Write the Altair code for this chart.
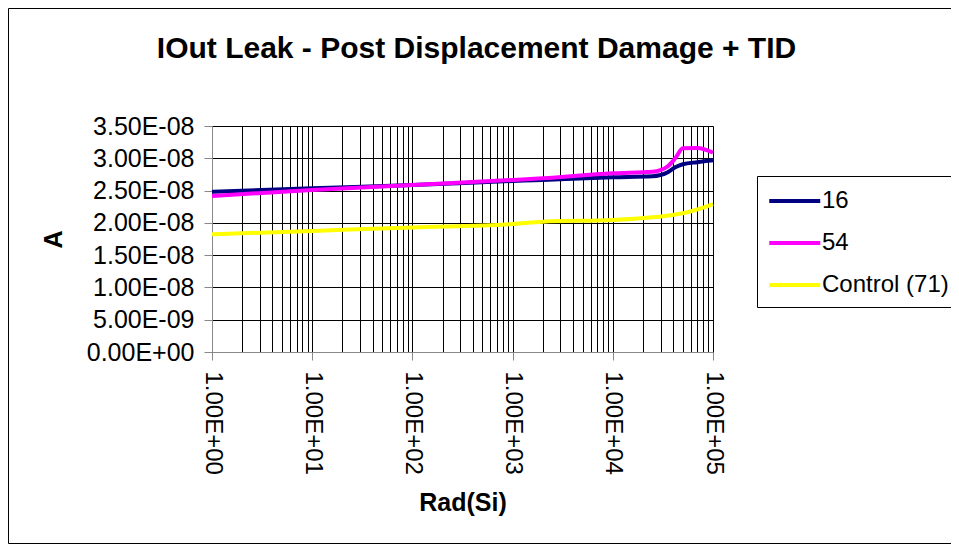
import altair as alt
import pandas as pd

# ---- data ----
doses = [1, 10, 100, 1000, 2000, 10000, 25000, 35000, 42000, 50000, 70000, 100000]
s16 = [2.48e-8, 2.535e-8, 2.586e-8, 2.648e-8, 2.665e-8, 2.705e-8, 2.72e-8, 2.78e-8, 2.86e-8, 2.907e-8, 2.94e-8, 2.968e-8]
s54 = [2.416e-8, 2.509e-8, 2.586e-8, 2.664e-8, 2.69e-8, 2.767e-8, 2.79e-8, 2.87e-8, 3.0e-8, 3.154e-8, 3.16e-8, 3.087e-8]
s71 = [1.823e-8, 1.874e-8, 1.93e-8, 1.982e-8, 2.018e-8, 2.044e-8, 2.086e-8, 2.11e-8, 2.13e-8, 2.148e-8, 2.21e-8, 2.292e-8]
series_names = ["16", "54", "Control (71)"]
series_colors = ["#000080", "#FF00FF", "#FFFF00"]

y_ticks = [0, 5e-9, 1e-8, 1.5e-8, 2e-8, 2.5e-8, 3e-8, 3.5e-8]
y_labels = ["0.00E+00", "5.00E-09", "1.00E-08", "1.50E-08", "2.00E-08", "2.50E-08", "3.00E-08", "3.50E-08"]
x_decades = [1, 10, 100, 1000, 10000, 100000]
x_labels = ["1.00E+00", "1.00E+01", "1.00E+02", "1.00E+03", "1.00E+04", "1.00E+05"]
x_grid = [m * d for d in x_decades[:-1] for m in range(1, 10)] + [x_decades[-1]]

rows = []
for name, vals in zip(series_names, [s16, s54, s71]):
    for d, v in zip(doses, vals):
        rows.append({"dose": d, "value": v, "series": name})
df = pd.DataFrame(rows)

FONT = "Liberation Sans"

def chain(ticks, labels, tol):
    parts = [f"abs(datum.value - {t}) < {tol} ? '{l}'" for t, l in zip(ticks, labels)]
    return " : ".join(parts) + " : ''"

y_expr = chain(y_ticks, y_labels, 1e-12)
x_expr = chain(x_decades, x_labels, 1e-6)
decade_test = " || ".join(f"abs(datum.value - {d}) < 1e-6" for d in x_decades)

lines = alt.Chart(df).mark_line(strokeWidth=4, interpolate="monotone").encode(
    x=alt.X(
        "dose:Q",
        scale=alt.Scale(type="log", domain=[1, 100000], nice=False),
        axis=alt.Axis(
            title="Rad(Si)",
            values=x_grid,
            labelExpr=x_expr,
            labelAngle=90,
            labelOverlap=False,
            labelPadding=11,
            labelFontSize=24,
            tickSize=8,
            tickOpacity={"condition": {"test": decade_test, "value": 1}, "value": 0},
            gridColor="black",
            gridOpacity=1,
            titleFontSize=25,
            titlePadding=16,
        ),
    ),
    y=alt.Y(
        "value:Q",
        scale=alt.Scale(domain=[0, 3.5e-8], nice=False),
        axis=alt.Axis(
            title="A",
            values=y_ticks,
            labelExpr=y_expr,
            labelOverlap=False,
            labelPadding=10,
            labelFontSize=25,
            tickSize=8,
            gridColor="black",
            gridOpacity=1,
            titleFontSize=25,
            titlePadding=20,
        ),
    ),
    color=alt.Color(
        "series:N",
        sort=series_names,
        scale=alt.Scale(domain=series_names, range=series_colors),
        legend=alt.Legend(
            title=None,
            orient="none",
            legendX=545,
            legendY=50,
            symbolType="M-1,0H3",
            symbolSize=650,
            symbolStrokeWidth=4,
            labelFontSize=24,
            labelFont=FONT,
            labelColor="black",
            labelOffset=25,
            rowPadding=15,
            padding=10,
            strokeColor="black",
            fillColor="white",
        ),
    ),
)

frame = alt.Chart(pd.DataFrame({"a": [0]})).mark_rect(
    fill="transparent", stroke="black", strokeWidth=1
).encode(
    x=alt.value(-203.5), x2=alt.value(760), y=alt.value(-117.5), y2=alt.value(417.5)
)

chart = alt.layer(frame, lines).properties(
    width=501,
    height=226,
    padding={"left": 204, "top": 118, "right": 238, "bottom": 192},
    autosize=alt.AutoSizeParams(type="none"),
    title=alt.TitleParams(
        "IOut Leak - Post Displacement Damage + TID",
        fontSize=30,
        font=FONT,
        fontWeight="bold",
        anchor="middle",
        baseline="alphabetic",
        dx=14,
        offset=-80,
    ),
).configure_view(stroke="black", strokeWidth=1).configure_axis(
    labelFont=FONT,
    titleFont=FONT,
    labelColor="black",
    titleColor="black",
    domainColor="black",
    tickColor="black",
    gridColor="black",
    gridOpacity=1,
    gridWidth=1,
    titleFontWeight="bold",
).configure(background="white")

chart.save("out.html", embed_options={"renderer": "svg", "actions": False})
